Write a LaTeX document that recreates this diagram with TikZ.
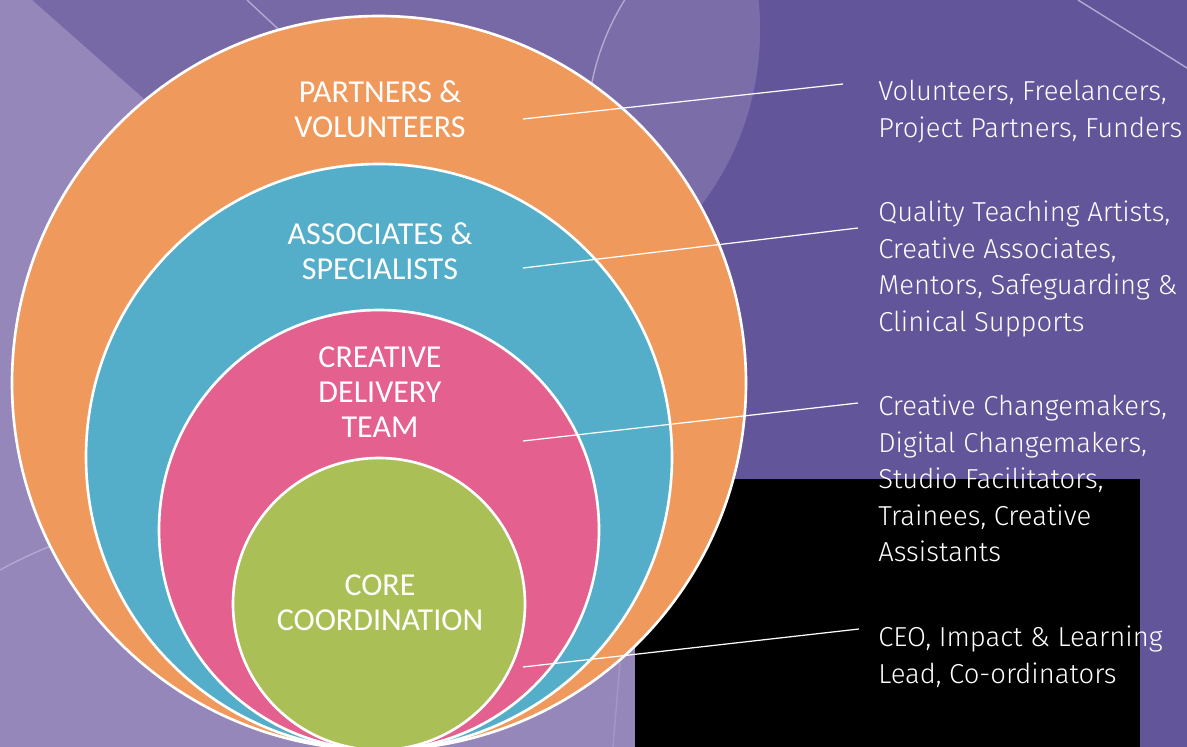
\documentclass[tikz,border=0pt]{standalone}
\usepackage{fontspec}
\usepackage{tikz}
\newfontfamily\ringfont{Carlito}
\IfFontExistsTF{Fira Sans Light}{\newfontfamily\listfont{Fira Sans Light}}{\newfontfamily\listfont{Fira Sans}}

\definecolor{bgright}{HTML}{63559A}
\definecolor{bgmid}{HTML}{7669A5}
\definecolor{bgsoft}{HTML}{7A6DA8}
\definecolor{bglight}{HTML}{9587BA}
\definecolor{paleline}{HTML}{B3A9D3}
\definecolor{faintline}{HTML}{A497C6}
\definecolor{ringorange}{HTML}{EF9A5C}
\definecolor{ringblue}{HTML}{54AEC9}
\definecolor{ringpink}{HTML}{E4608E}
\definecolor{ringgreen}{HTML}{ABBF57}

\tikzset{
  ring/.style={draw=white, line width=1.5pt},
  ringlabel/.style={text=white, align=center, inner sep=0pt,
    font=\ringfont\fontsize{18.2}{19.8}\selectfont},
  listtext/.style={text=white, align=left, anchor=north west, inner sep=0pt,
    font=\listfont\fontsize{15.6}{20.7}\selectfont},
  pointer/.style={draw=white, line width=0.7pt},
  pale/.style={draw=paleline, line width=0.8pt}
}

\begin{document}
\begin{tikzpicture}[x=0.02cm,y=-0.02cm]
\useasboundingbox (0,0) rectangle (1187,747);
\clip (0,0) rectangle (1187,747);

% background
\fill[bgright] (0,0) rectangle (1187,747);
\fill[bgmid] (0,0) rectangle (470,400);
\fill[bgmid] (470,30) circle (290);
\begin{scope}
\clip (470,30) circle (290);
\fill[bgsoft] (837,132) circle (250);
\end{scope}
\fill[bglight] (0,0) -- (32,0) -- (143,98) -- (250,300) -- (380,600)
  -- (635,640) -- (635,747) -- (0,747) -- cycle;

% thin background strokes
\draw[pale] (247,0) -- (290,40);
\begin{scope}
\clip (560,0) rectangle (700,300);
\draw[pale] (837,132) circle (250);
\end{scope}
\draw[pale] (1078,0) -- (1187,68);
\draw[pale] (0,570) .. controls (20,559) and (40,550) .. (70,538);
\draw[draw=faintline, line width=0.8pt] (621,650) -- (613,747);

% dark panel
\fill[black] (635,479) rectangle (1140,747);

% rings
\filldraw[ring, fill=ringorange] (379,383) circle (367);
\filldraw[ring, fill=ringblue] (379,457) circle (293);
\filldraw[ring, fill=ringpink] (379,530) circle (220);
\filldraw[ring, fill=ringgreen] (379,604) circle (146);

% ring labels
\node[ringlabel] (partners) at (380,109) {PARTNERS \&\\VOLUNTEERS};
\node[ringlabel] (associates) at (380,251) {ASSOCIATES \&\\SPECIALISTS};
\node[ringlabel] (delivery) at (380,392) {CREATIVE\\DELIVERY\\TEAM};
\node[ringlabel] (core) at (380,603) {CORE\\COORDINATION};

% role lists
\node[listtext] (partnerslist) at (878,80) {Volunteers, Freelancers,\\Project Partners, Funders};
\node[listtext] (associateslist) at (878,201) {Quality Teaching Artists,\\Creative Associates,\\Mentors, Safeguarding \&\\Clinical Supports};
\node[listtext] (deliverylist) at (878,395) {Creative Changemakers,\\Digital Changemakers,\\Studio Facilitators,\\Trainees, Creative\\Assistants};
\node[listtext] (corelist) at (878,626) {CEO, Impact \& Learning\\Lead, Co-ordinators};

% pointers
\coordinate (partners-pin) at (523,119);
\coordinate (partners-tip) at (843,84);
\coordinate (associates-pin) at (523,268);
\coordinate (associates-tip) at (858,228);
\coordinate (delivery-pin) at (523,441);
\coordinate (delivery-tip) at (858,403);
\coordinate (core-pin) at (523,667);
\coordinate (core-tip) at (859,629);
\draw[pointer] (partners-pin) -- (partners-tip);
\draw[pointer] (associates-pin) -- (associates-tip);
\draw[pointer] (delivery-pin) -- (delivery-tip);
\draw[pointer] (core-pin) -- (core-tip);
\end{tikzpicture}
\end{document}
